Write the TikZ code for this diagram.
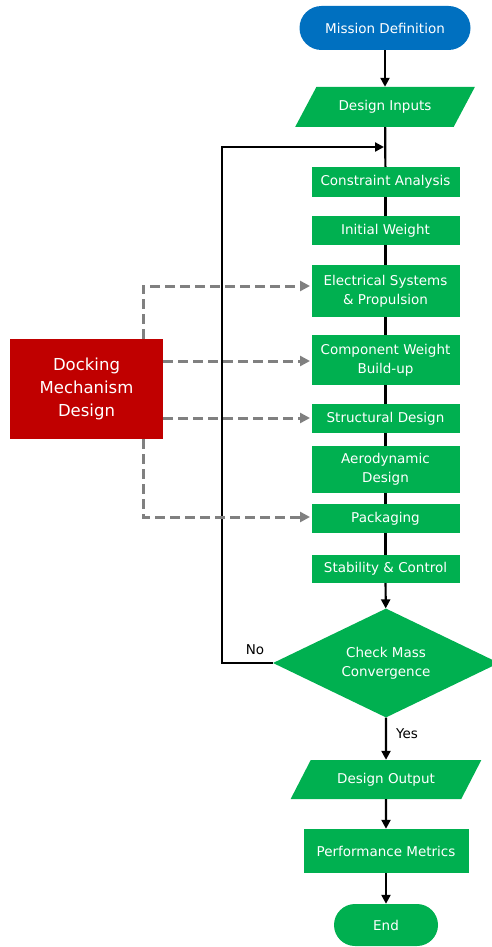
\documentclass[tikz,border=0pt]{standalone}
\usepackage{fontspec}
\setmainfont{DejaVu Sans}
\usetikzlibrary{arrows.meta,shapes.geometric}
\definecolor{gr}{HTML}{00B050}
\definecolor{bl}{HTML}{0070C0}
\definecolor{rd}{HTML}{C00000}
\definecolor{gy}{HTML}{808080}
\begin{document}
\begin{tikzpicture}[x=1pt,y=-1pt,
  txt/.style={font=\fontsize{13.5}{19}\selectfont, align=center, inner sep=0pt},
  box/.style={txt, fill=gr, text=white, minimum width=148pt},
  pill/.style={txt, text=white},
  para/.style={txt, fill=gr, text=white, trapezium, trapezium stretches=true},
  line/.style={line width=2.2pt, black},
  arr/.style={line width=2.2pt, black, -{Triangle[length=9pt,width=9pt]}},
  dsh/.style={line width=3pt, gy, dash pattern=on 10pt off 5pt, -{Triangle[length=10pt,width=10pt]}},
  lbl/.style={font=\fontsize{13.5}{16}\selectfont, inner sep=0pt, text=black}]
\useasboundingbox (0,0) rectangle (492,947);

\node[pill, fill=bl, minimum width=171pt, minimum height=44pt, rounded corners=22pt] (mis) at (385,28) {Mission Definition};
\node[para, minimum width=180pt, minimum height=40pt, trapezium left angle=42.3, trapezium right angle=137.7] (din) at (385,107) {Design Inputs};
\node[box, minimum height=30pt] (cons) at (385.5,182) {Constraint Analysis};
\node[box, minimum height=29pt] (init) at (385.5,230.5) {Initial Weight};
\node[box, minimum height=52pt] (elec) at (385.5,291) {Electrical Systems\\\& Propulsion};
\node[box, minimum height=50pt] (comp) at (385.5,360) {Component Weight\\Build-up};
\node[box, minimum height=29pt] (stru) at (385.5,418.5) {Structural Design};
\node[box, minimum height=47pt] (aero) at (385.5,469.5) {Aerodynamic\\Design};
\node[box, minimum height=29pt] (pack) at (385.5,518.5) {Packaging};
\node[box, minimum height=28pt] (stab) at (385.5,569) {Stability \& Control};
\node[txt, diamond, shape aspect=2.07, fill=gr, text=white, minimum width=226pt, minimum height=109pt] (dia) at (386,663) {Check Mass\\Convergence};
\node[para, minimum width=191pt, minimum height=39pt, trapezium left angle=45, trapezium right angle=135] (dout) at (386,779.5) {Design Output};
\node[box, minimum width=165pt, minimum height=44pt] (perf) at (386,851) {Performance Metrics};
\node[pill, fill=gr, minimum width=104pt, minimum height=42pt, rounded corners=21pt] (end) at (386,925) {End};

\node[txt, fill=rd, text=white, minimum width=153pt, minimum height=100pt, font=\fontsize{16.5}{23}\selectfont] (red) at (86.5,389) {Docking\\Mechanism\\Design};

\node[lbl] (no) at (255,650) {No};
\node[lbl] (yes) at (407,734) {Yes};

% main flow
\draw[arr] (mis) -- (din);
\draw[line] (din) -- (cons);
\draw[line] (cons) -- (init);
\draw[line] (init) -- (elec);
\draw[line] (elec) -- (comp);
\draw[line] (comp) -- (stru);
\draw[line] (stru) -- (aero);
\draw[line] (aero) -- (pack);
\draw[line] (pack) -- (stab);
\draw[arr] (stab) -- (dia);
\draw[arr] (dia) -- (dout);
\draw[arr] (dout) -- (perf);
\draw[arr] (perf) -- (end);

% loop back
\coordinate (lpx) at (222,0);
\coordinate (lpend) at (384,147);
\draw[arr] (dia.west) -- (dia.west -| lpx) |- (lpend);

% dashed influences
\coordinate (dx) at (143,0);
\coordinate (e1) at (310,286);
\coordinate (e2) at (310,361);
\coordinate (e3) at (310,418);
\coordinate (e4) at (310,517);
\draw[dsh] (red.north -| dx) |- (e1);
\draw[dsh] (red.east |- e2) -- (e2);
\draw[dsh] (red.east |- e3) -- (e3);
\draw[dsh] (red.south -| dx) |- (e4);
\end{tikzpicture}
\end{document}
